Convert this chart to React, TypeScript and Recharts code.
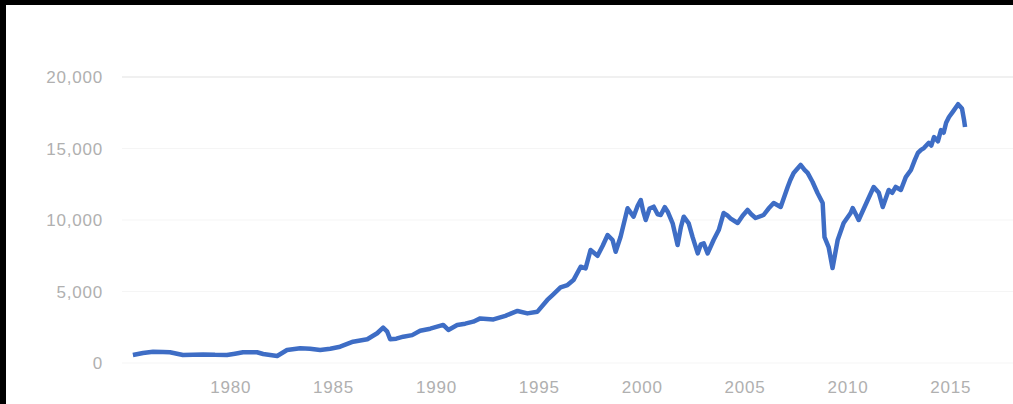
import React from "react";
import { LineChart, Line, XAxis, YAxis, CartesianGrid, ReferenceLine } from "recharts";

const years = [
  1975.25, 1975.74, 1976.23, 1976.71, 1977.05, 1977.68, 1978.17, 1978.66, 1979.24, 1979.82,
  1980.21, 1980.6, 1981.28, 1981.58, 1981.92, 1982.26, 1982.74, 1983.38, 1983.86, 1984.35,
  1984.84, 1985.32, 1985.95, 1986.64, 1987.12, 1987.41, 1987.61, 1987.75, 1988.05, 1988.39,
  1988.82, 1989.21, 1989.7, 1990.33, 1990.58, 1991.01, 1991.4, 1991.79, 1992.13, 1992.77,
  1993.35, 1993.94, 1994.42, 1994.91, 1995.39, 1995.68, 1996.03, 1996.37, 1996.66, 1997.01,
  1997.25, 1997.49, 1997.83, 1998.08, 1998.32, 1998.56, 1998.71, 1998.95, 1999.29, 1999.45,
  1999.58, 1999.78, 1999.93, 2000.05, 2000.17, 2000.36, 2000.56, 2000.75, 2000.9, 2001.1,
  2001.24, 2001.48, 2001.72, 2001.88, 2002.02, 2002.26, 2002.45, 2002.7, 2002.85, 2002.99,
  2003.18, 2003.47, 2003.72, 2003.96, 2004.15, 2004.3, 2004.64, 2004.88, 2005.12, 2005.3,
  2005.51, 2005.9, 2006.14, 2006.39, 2006.73, 2007.07, 2007.2, 2007.36, 2007.55, 2007.7,
  2007.89, 2008.04, 2008.28, 2008.52, 2008.77, 2008.86, 2009.06, 2009.25, 2009.5, 2009.79,
  2010.13, 2010.23, 2010.42, 2010.52, 2010.96, 2011.25, 2011.5, 2011.69, 2011.98, 2012.15,
  2012.32, 2012.57, 2012.81, 2013.06, 2013.25, 2013.4, 2013.55, 2013.69, 2013.93, 2014.05,
  2014.18, 2014.37, 2014.52, 2014.65, 2014.77, 2014.91, 2015.11, 2015.35, 2015.54, 2015.64,
  2015.69,
];

const values = [
  560, 700, 790, 770, 750, 560, 580, 600, 570, 560,
  650, 750, 750, 630, 560, 490, 910, 1030, 1000, 910,
  1000, 1140, 1490, 1660, 2080, 2470, 2190, 1660, 1700, 1840,
  1950, 2250, 2400, 2660, 2310, 2660, 2750, 2890, 3120, 3050,
  3300, 3640, 3470, 3590, 4410, 4800, 5280, 5450, 5800, 6730,
  6620, 7900, 7500, 8200, 8950, 8600, 7780, 8830, 10820, 10500,
  10230, 11000, 11400, 10600, 10000, 10800, 10930, 10400, 10350, 10900,
  10580, 9770, 8250, 9500, 10230, 9770, 8800, 7670, 8300, 8370,
  7670, 8600, 9300, 10490, 10300, 10100, 9790, 10300, 10700, 10400,
  10140, 10350, 10800, 11190, 10910, 12310, 12800, 13290, 13600, 13850,
  13500, 13290, 12660, 11890, 11190, 8800, 8110, 6640, 8600, 9790,
  10490, 10840, 10300, 10000, 11400, 12310, 11900, 10910, 12100, 11900,
  12310, 12100, 13000, 13500, 14200, 14690, 14900, 15030, 15400, 15200,
  15800, 15500, 16290, 16100, 16800, 17200, 17600, 18100, 17800, 17000,
  16500,
];

const xTicks = [1980, 1985, 1990, 1995, 2000, 2005, 2010, 2015];
const yTicks = [0, 5000, 10000, 15000, 20000];

const data = years.map((y, i) => ({ year: y, value: values[i] }));

const tickStyle = {
  fill: "#b0b0b0",
  fontSize: 17,
  fontFamily: "'Liberation Sans', Arial, sans-serif",
  letterSpacing: 0.8,
};

export default function App() {
  return (
    <div style={{ position: "absolute", left: 0, top: 0, width: 1013, height: 404, background: "#fff", overflow: "hidden" }}>
      <LineChart
        width={1013}
        height={404}
        data={data}
        margin={{ top: 77, right: 0, bottom: 0, left: 0 }}
      >
        <CartesianGrid horizontal vertical={false} stroke="#f5f5f5" strokeWidth={1} />
        <ReferenceLine y={20000} stroke="#e6e6e6" strokeWidth={1} />
        <XAxis
          dataKey="year"
          type="number"
          domain={[1974.72, 2018.02]}
          ticks={xTicks}
          allowDataOverflow
          height={41}
          axisLine={false}
          tickLine={false}
          tickSize={0}
          tickMargin={18}
          tick={tickStyle}
        />
        <YAxis
          dataKey="value"
          type="number"
          domain={[0, 20000]}
          ticks={yTicks}
          width={122}
          axisLine={false}
          tickLine={false}
          tickSize={0}
          tickMargin={19}
          tick={tickStyle}
          tickFormatter={(v: number) => v.toLocaleString("en-US")}
        />
        <Line
          type="linear"
          dataKey="value"
          stroke="#3e6dc5"
          strokeWidth={4.5}
          dot={false}
          isAnimationActive={false}
          strokeLinejoin="round"
        />
      </LineChart>
      <div style={{ position: "absolute", left: 0, top: 0, width: 1013, height: 5, background: "#000" }} />
      <div style={{ position: "absolute", left: 0, top: 0, width: 6, height: 404, background: "#000" }} />
    </div>
  );
}
